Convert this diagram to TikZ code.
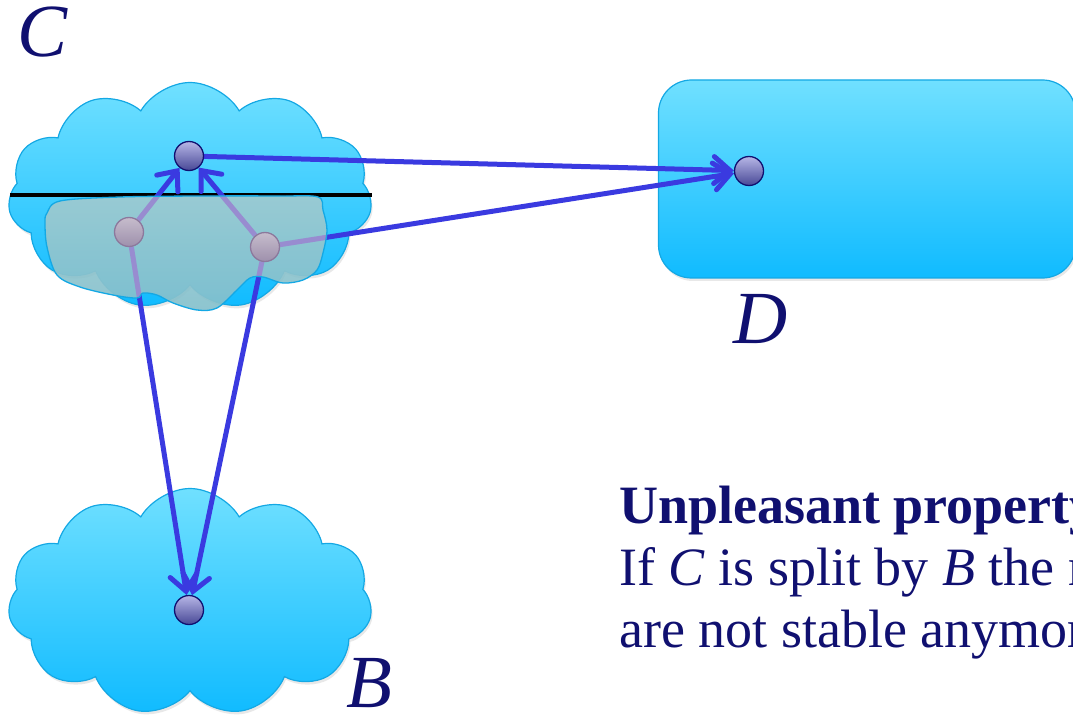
\documentclass[tikz,border=0pt]{standalone}
\usepackage{fontspec}
\setmainfont{Liberation Serif}
\usetikzlibrary{arrows.meta,positioning,shapes.symbols,shadows}
\definecolor{inkblue}{RGB}{16,16,112}
\definecolor{skytop}{RGB}{112,224,255}
\definecolor{skybot}{RGB}{16,187,255}
\definecolor{skyline}{RGB}{20,168,228}
\definecolor{arrowblue}{RGB}{58,58,224}
\definecolor{lilac}{RGB}{152,140,208}
\definecolor{blobtop}{RGB}{160,202,208}
\definecolor{blobbot}{RGB}{132,192,204}
\definecolor{dottop}{RGB}{182,182,230}
\definecolor{dotbot}{RGB}{72,72,150}
\definecolor{greytop}{RGB}{198,188,204}
\definecolor{greybot}{RGB}{158,144,172}
\definecolor{greyline}{RGB}{140,120,156}
\pgfdeclarelayer{bg}\pgfdeclarelayer{links}\pgfdeclarelayer{cover}
\pgfsetlayers{bg,links,cover,main}
\newcommand\blobpath{plot[smooth cycle,tension=0.55] coordinates {(47,213) (60,201) (120,197) (200,196) (280,196) (318,197) (323,210) (327,230) (323,253) (317,270) (303,280) (283,283) (263,277) (250,278) (237,290) (217,308) (197,310) (173,303) (157,295) (143,293) (137,298) (113,295) (80,287) (57,275) (47,247) (45,223)}}

\begin{document}
\begin{tikzpicture}[x=1pt,y=-1pt,
  every node/.style={text=inkblue},
  sky/.style={draw=skyline,line width=1.2pt,top color=skytop,bottom color=skybot,drop shadow={opacity=0.18,shadow xshift=1.5pt,shadow yshift=-3pt}},
  puff/.style={sky,cloud,cloud puffs=11,cloud puff arc=120,cloud ignores aspect,minimum width=364pt,minimum height=227pt,inner sep=0pt},
  dot/.style={circle,draw=inkblue,line width=1.3pt,minimum size=29pt,inner sep=0pt,top color=dottop,bottom color=dotbot},
  greydot/.style={dot,draw=greyline,top color=greytop,bottom color=greybot},
  letter/.style={font=\fontsize{75}{80}\selectfont\itshape,inner sep=0pt,anchor=base west},
  link/.style={-{Straight Barb[length=16pt,width=27pt,line cap=round]},line width=5pt,draw=arrowblue,line cap=round},
  hidden/.style={line width=5pt,draw=lilac}]
\useasboundingbox (0,0) rectangle (1073,719);
\clip (0,0) rectangle (1073,719);
\begin{pgfonlayer}{bg}
\node[puff] (cloudC) at (190,196) {};
\node[puff] (cloudB) at (190,602) {};
\node[sky,rectangle,rounded corners=33pt,minimum width=417pt,minimum height=198pt] (boxD) at (867,179) {};
\draw[line width=4pt] (10,195) -- (372,195);
\end{pgfonlayer}
\node[dot] (ctop) at (189,156) {};
\node[greydot] (cleft) at (129,232) {};
\node[greydot] (cright) at (265,247) {};
\node[dot] (dpt) at (749,171) {};
\node[dot] (bpt) at (189,610) {};
\begin{pgfonlayer}{links}
\draw[link] (ctop) -- (dpt); \draw[link] (cright) -- (dpt);
\draw[link] (cleft) -- (ctop); \draw[link] (cright) -- (ctop);
\draw[link] (cleft) -- (bpt); \draw[link] (cright) -- (bpt);
\end{pgfonlayer}
\begin{pgfonlayer}{cover}
\path[top color=blobtop,bottom color=blobbot,fill opacity=0.92] \blobpath;
\begin{scope}
\clip \blobpath;
\draw[hidden] (cleft) -- (ctop); \draw[hidden] (cright) -- (ctop); \draw[hidden] (cright) -- (dpt);
\draw[hidden] (cleft) -- (bpt); \draw[hidden] (cright) -- (bpt);
\end{scope}
\draw[skyline,line width=1.3pt] \blobpath;
\end{pgfonlayer}
\node[letter] (labC) at (17,57) {C};
\node[letter] (labD) at (733,343) {D};
\node[letter] (labB) at (346,707) {B};
\node[anchor=base west,align=left,inner sep=0pt,font=\fontsize{54}{62}\selectfont] (note) at (619,647) {\textbf{Unpleasant property:}\\If \textit{C} is split by \textit{B} the morphisms\\are not stable anymore.};
\end{tikzpicture}
\end{document}
